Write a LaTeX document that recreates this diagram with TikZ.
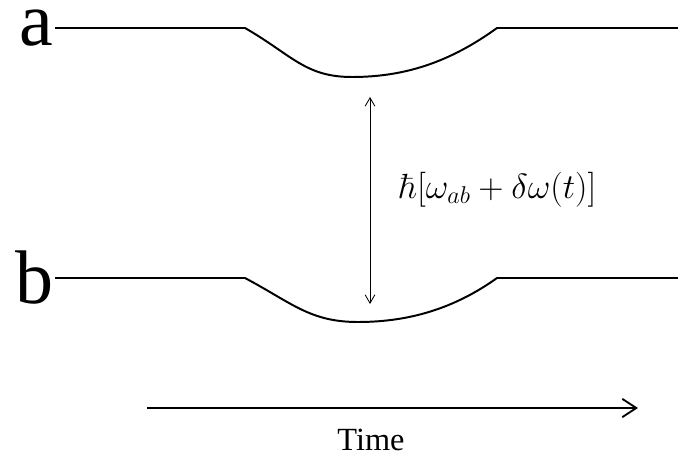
\documentclass[tikz,border=0pt]{standalone}
\usepackage{amsmath}
\usepackage[no-math]{fontspec}
\setmainfont{Liberation Serif}
\usepackage{tikz}
\usetikzlibrary{arrows.meta, positioning}

\begin{document}
\begin{tikzpicture}[
    x=0.025cm, y=-0.025cm,
    lvl/.style={anchor=east, inner sep=1pt, font=\fontsize{54}{54}\selectfont},
    level/.style={line width=1.4pt, line join=round},
    gap/.style={{Straight Barb[length=6pt, width=7pt]}-{Straight Barb[length=6pt, width=7pt]}, line width=0.6pt},
    tarr/.style={-{Straight Barb[length=10pt, width=13pt]}, line width=1.3pt}
  ]
  \useasboundingbox (0,0) rectangle (678,467);
  % energy levels
  \node[lvl] (a) at (55,28)  {a};
  \node[lvl] (b) at (55,278) {b};
  \draw[level] (a.east) -- (245,28)
    .. controls (292,55) and (305,77) .. (352,77)
    .. controls (405,77) and (450,62) .. (497,28) -- (678,28);
  \draw[level] (b.east) -- (245,278)
    .. controls (292,303) and (310,322) .. (358,322)
    .. controls (410,322) and (455,308) .. (497,278) -- (678,278);
  % splitting
  \coordinate (up) at (370,97);
  \coordinate (dn) at (370,304);
  \draw[gap] (up) -- (dn);
  \node[anchor=west, font=\fontsize{25}{25}\selectfont] (lab) at (394,190)
    {$\hbar[\omega_{ab}+\delta\omega(t)]$};
  % time axis
  \coordinate (t0) at (147,408);
  \coordinate (t1) at (638,408);
  \draw[tarr] (t0) -- (t1);
  \node[font=\fontsize{23}{23}\selectfont] (time) at (371,440) {Time};
\end{tikzpicture}
\end{document}
